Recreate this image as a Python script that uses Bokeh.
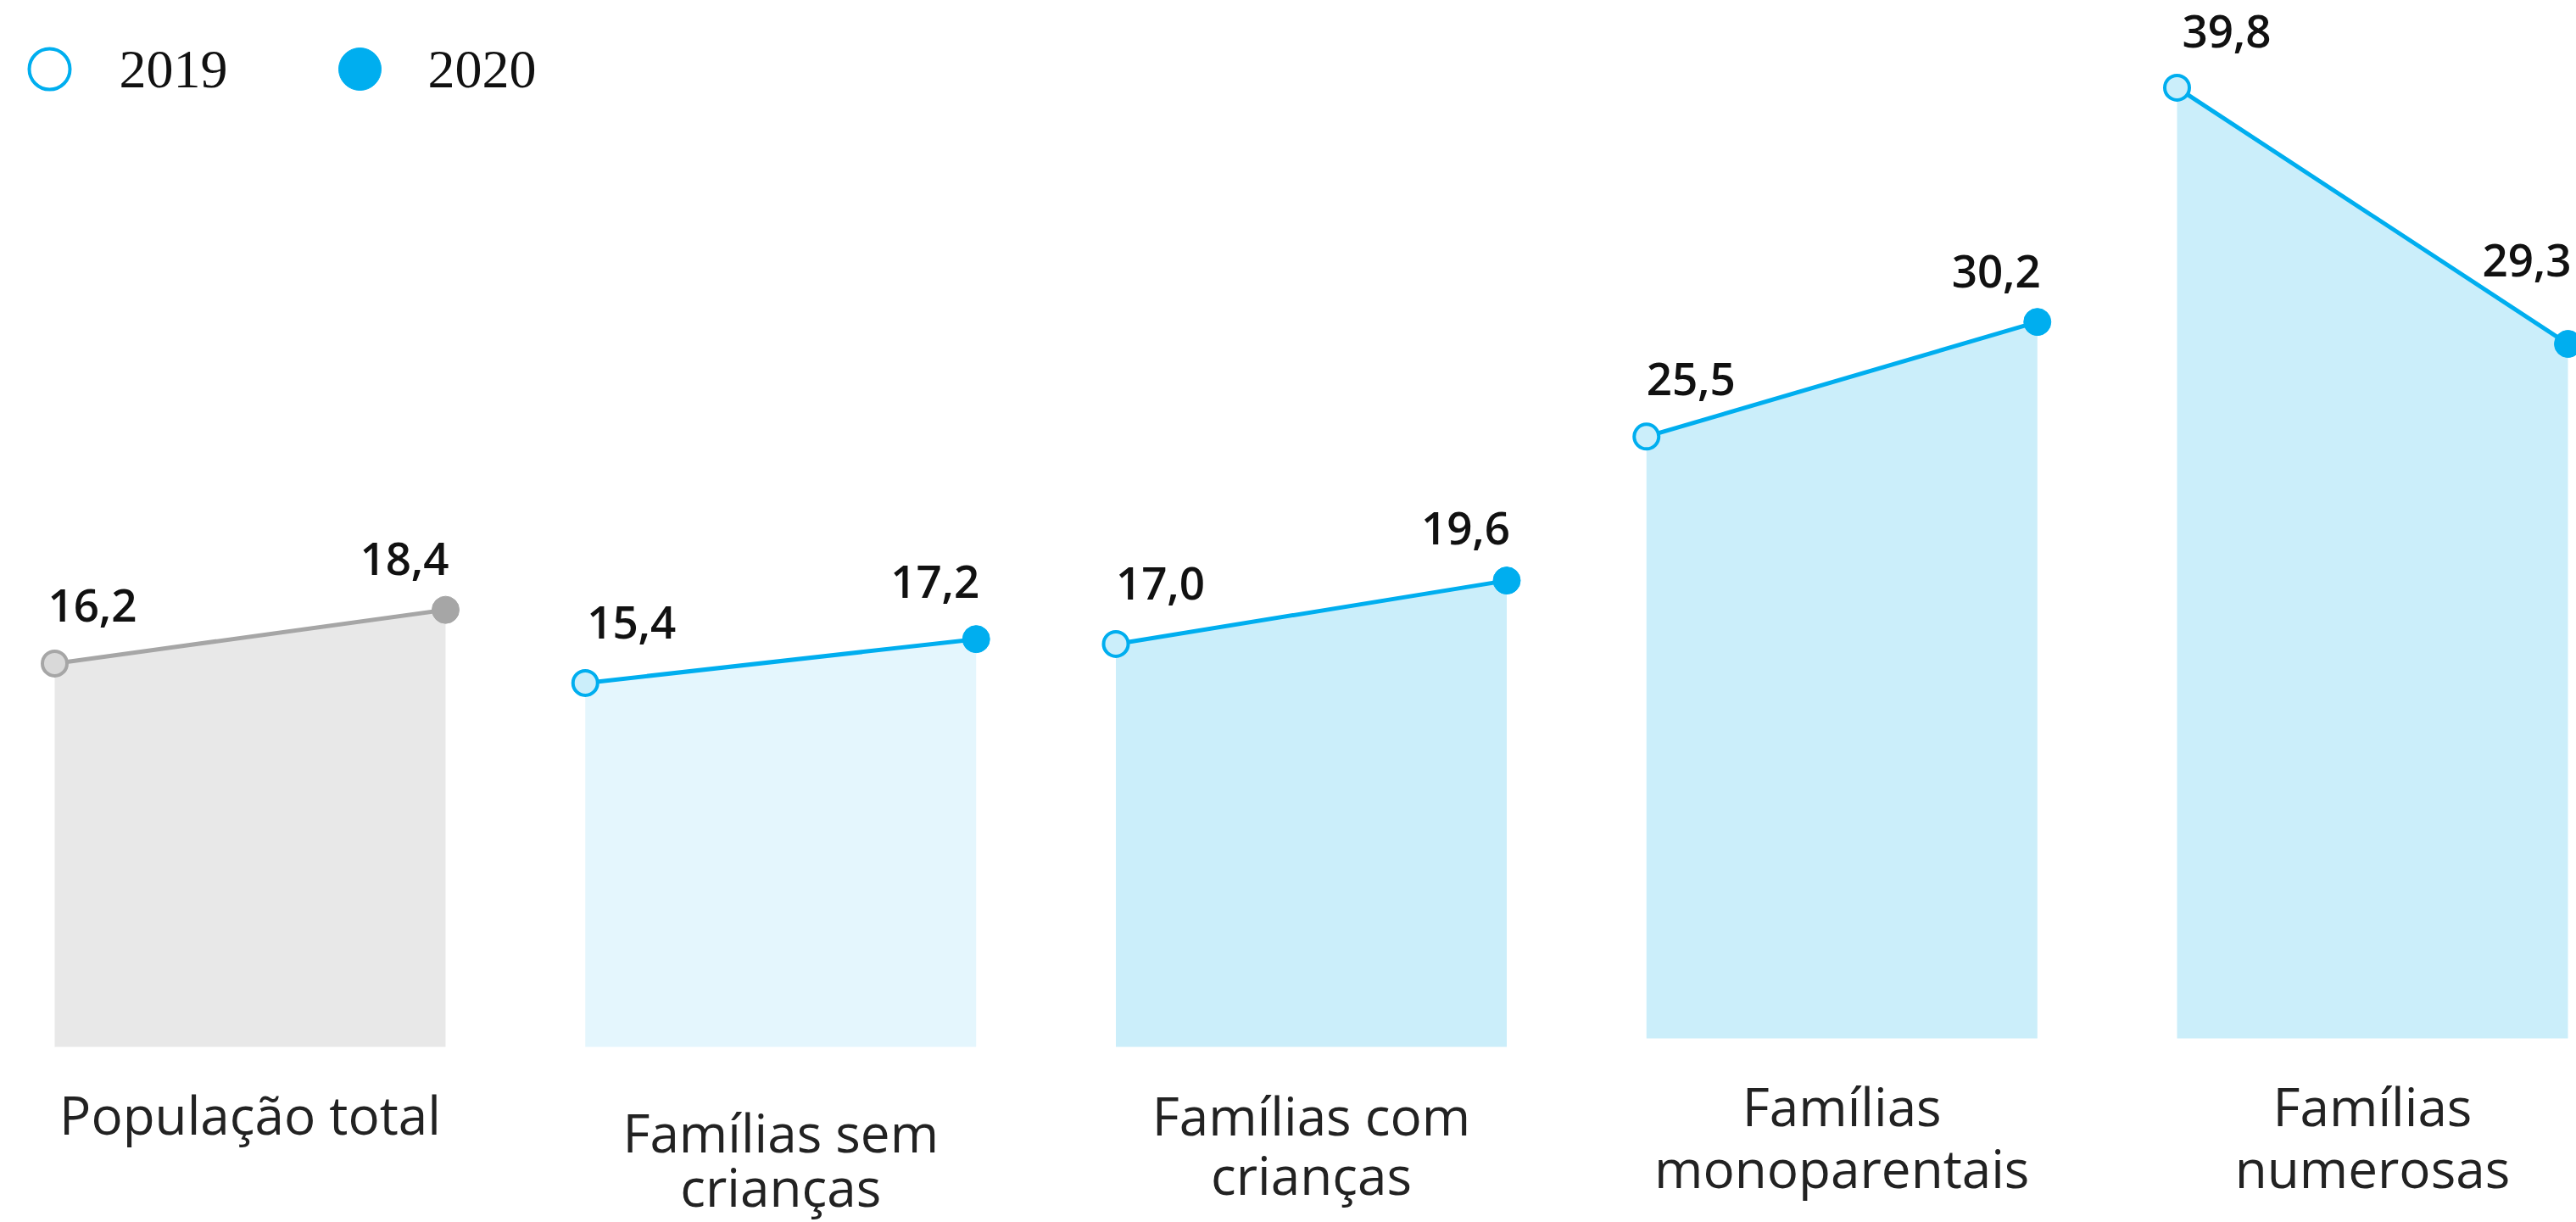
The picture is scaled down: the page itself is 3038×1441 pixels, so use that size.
from bokeh.plotting import figure
from bokeh.models import Range1d, ColumnDataSource
from bokeh.embed import file_html
from bokeh.resources import INLINE
from bokeh.core.properties import value

# ---------------- data ----------------
categories = ["População total", "Famílias sem\ncrianças", "Famílias com\ncrianças",
              "Famílias\nmonoparentais", "Famílias\nnumerosas"]
values_2019 = [16.2, 15.4, 17.0, 25.5, 39.8]
values_2020 = [18.4, 17.2, 19.6, 30.2, 29.3]
series = ["2019", "2020"]

# ---------------- style / layout ----------------
CYAN = "#00aeef"
GRAY_LINE = "#a6a6a6"
area_colors = ["#e8e8e8", "#e4f6fd", "#cbeefa", "#cbeefa", "#cbeefa"]
line_colors = [GRAY_LINE, CYAN, CYAN, CYAN, CYAN]
m19_fill = ["#d9d9d9", "#cbeefa", "#cbeefa", "#cbeefa", "#cbeefa"]
bar_bottom_px = [1234, 1234, 1234, 1224, 1224]
cat_first_baseline = [65, 86, 66, 55, 55]   # screen px below value-0 line
cat_line_gap = [73, 64, 70, 73, 73]
lab19_offsets = [-68, -71, -71, -68, -66]
lab20_offsets = [-60, -68, -62, -60, -99]
lab19_xshift = [-8, 2, 0, 0, 6]
VALUE_FONT = value("'Open Sans SemiBold', 'Open Sans'")

W, H = 3038, 1441
X0_PX = 64.0          # canvas px of first panel's left edge
SPACING_PX = 625.75   # canvas px between panels
BASE_PX = 1248.0      # canvas px of value 0
PX_PER_UNIT = 28.77
PANEL_W = 0.7367      # fraction of spacing


def dx(cx):
    return (cx - X0_PX) / SPACING_PX


def dy(cy):
    return (BASE_PX - cy) / PX_PER_UNIT


p = figure(width=W, height=H,
           x_range=Range1d(dx(0), dx(W)), y_range=Range1d(dy(H), dy(0)),
           x_axis_type=None, y_axis_type=None,
           output_backend="svg", toolbar_location=None, min_border=0)
p.grid.visible = False
p.outline_line_color = None
p.background_fill_color = "white"
p.border_fill_color = "white"

n = len(categories)
x19 = [i for i in range(n)]
x20 = [i + PANEL_W for i in range(n)]
xc = [i + PANEL_W / 2 for i in range(n)]
bottoms = [dy(b) for b in bar_bottom_px]


def fmt(v):
    return f"{v:.1f}".replace(".", ",")


lines = [c.split("\n") for c in categories]
line1 = [l[0] for l in lines]
line2 = [l[1] if len(l) > 1 else "" for l in lines]

src = ColumnDataSource(dict(
    xs=[[a, a, b, b] for a, b in zip(x19, x20)],
    ys=[[b0, v1, v2, b0] for b0, v1, v2 in zip(bottoms, values_2019, values_2020)],
    x19=x19, x20=x20, xc=xc, y0=[0] * n,
    v19=values_2019, v20=values_2020,
    t19=[fmt(v) for v in values_2019], t20=[fmt(v) for v in values_2020],
    o19=lab19_offsets, o20=lab20_offsets, s19=lab19_xshift,
    area=area_colors, line=line_colors, m19=m19_fill,
    l1=line1, l2=line2,
    off1=cat_first_baseline,
    off2=[o + g for o, g in zip(cat_first_baseline, cat_line_gap)],
))

p.patches("xs", "ys", source=src, fill_color="area", line_color=None)
p.segment("x19", "v19", "x20", "v20", source=src, line_color="line", line_width=5)
p.scatter("x19", "v19", source=src, size=29, fill_color="m19", line_color="line", line_width=4)
p.scatter("x20", "v20", source=src, size=32, fill_color="line", line_color="line", line_width=1)

p.text("x19", "v19", text="t19", source=src, text_align="left", text_baseline="alphabetic",
       y_offset="o19", x_offset="s19", text_font=VALUE_FONT, text_font_size="53px",
       text_font_style="normal", text_color="#111111")
p.text("x20", "v20", text="t20", source=src, text_align="right", text_baseline="alphabetic",
       y_offset="o20", x_offset=4, text_font=VALUE_FONT, text_font_size="53px",
       text_font_style="normal", text_color="#111111")

for col, off in (("l1", "off1"), ("l2", "off2")):
    p.text("xc", "y0", text=col, source=src, text_align="center", text_baseline="alphabetic",
           y_offset=off, text_font=value("Open Sans"), text_font_size="62px",
           text_color="#222222")

# ---------------- legend ----------------
leg_y = dy(81)
p.scatter([dx(58)], [leg_y], size=48, fill_color="white", line_color=CYAN, line_width=4)
p.scatter([dx(424)], [leg_y], size=50, fill_color=CYAN, line_color=CYAN)
p.text([dx(140), dx(504)], [leg_y, leg_y], text=series, text_align="left", text_baseline="middle",
       text_font=value("Liberation Serif"), text_font_size="64px", text_color="#111111")

open("out.html", "w").write(file_html(p, INLINE))
